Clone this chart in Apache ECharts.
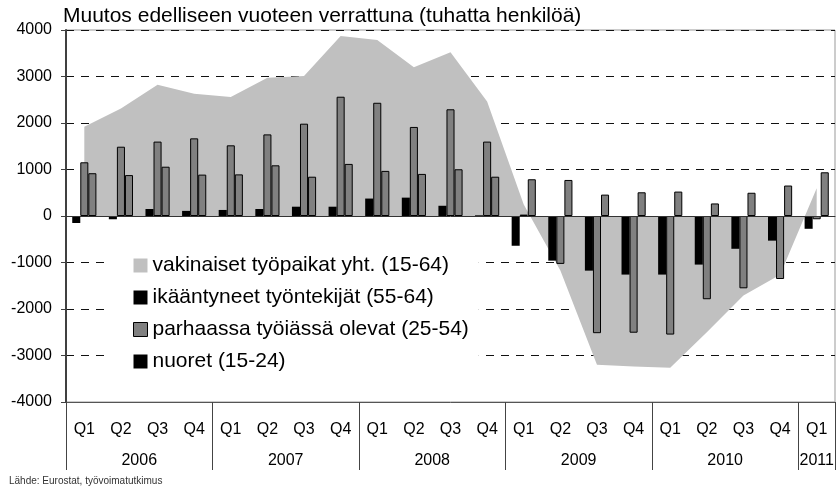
<!DOCTYPE html>
<html>
<head>
<meta charset="utf-8">
<script src="https://cdn.jsdelivr.net/npm/echarts@6/dist/echarts.min.js"></script>
<style>
  html, body { margin: 0; padding: 0; background: #fff; }
  #chart { width: 837px; height: 490px; }
</style>
</head>
<body>
<div id="chart"></div>
<script>
// quarters and year rows
const quarters = ['Q1', 'Q2', 'Q3', 'Q4', 'Q1', 'Q2', 'Q3', 'Q4', 'Q1', 'Q2', 'Q3', 'Q4',
  'Q1', 'Q2', 'Q3', 'Q4', 'Q1', 'Q2', 'Q3', 'Q4', 'Q1'];
const years = ['2006', '2007', '2008', '2009', '2010', '2011'];
const yearQuarters = [4, 4, 4, 4, 4, 1];
const yTicks = [-4000, -3000, -2000, -1000, 0, 1000, 2000, 3000, 4000];

// series values (thousand persons)
const vakinaiset = [1920, 2310, 2820, 2630, 2560, 2975, 3010, 3870, 3785, 3200, 3520, 2460,
  250, -1170, -3200, -3235, -3265, -2500, -1710, -1265, 595];
const ikaantyneet = [-150, -70, 150, 110, 130, 150, 200, 200, 375, 395, 220, 15,
  -640, -960, -1175, -1260, -1260, -1045, -705, -530, -275];
const parhaassa = [1155, 1490, 1600, 1670, 1520, 1755, 1985, 2565, 2435, 1915, 2295, 1600,
  30, -1030, -2520, -2510, -2550, -1790, -1555, -1355, -70];
const nuoret = [920, 880, 1060, 890, 895, 1090, 845, 1120, 970, 905, 1005, 845,
  790, 775, 460, 510, 525, 270, 500, 655, 940];

const names = [
  'vakinaiset työpaikat yht. (15-64)',
  'ikääntyneet työntekijät (55-64)',
  'parhaassa työiässä olevat (25-54)',
  'nuoret (15-24)',
];

const font = 'Liberation Sans, Arial, sans-serif';

// year row: half-quarter points, labels at year centers, ticks at year borders
const yearLabelAt = {};
const yearTickAt = {};
let start = 0;
years.forEach((y, i) => {
  yearLabelAt[2 * start + yearQuarters[i]] = y;
  yearTickAt[2 * start] = true;
  start += yearQuarters[i];
});
yearTickAt[2 * start] = true;
const halfPoints = [];
for (let i = 0; i <= 2 * start; i++) halfPoints.push('h' + i);
// zero line: ticks at each half-quarter
const zeroCells = [];
for (let i = 0; i < 2 * quarters.length; i++) zeroCells.push('z' + i);

const quarterCats = quarters.map((q, i) => 'c' + i);

const myChart = echarts.init(document.getElementById('chart'));

const barBase = {
  type: 'bar',
  xAxisIndex: 0,
  barGap: '0%',
  barCategoryGap: '34%',
  z: 2,
};

myChart.setOption({
  animation: false,
  title: [
    {
      text: 'Muutos edelliseen vuoteen verrattuna (tuhatta henkilöä)',
      left: 63,
      top: 6,
      padding: 0,
      textStyle: { fontFamily: font, fontSize: 21, fontWeight: 'normal', color: '#000' },
    },
    {
      text: 'Lähde: Eurostat, työvoimatutkimus',
      left: 9,
      top: 476,
      padding: 0,
      textStyle: { fontFamily: font, fontSize: 10, fontWeight: 'normal', color: '#333' },
    },
  ],
  legend: {
    orient: 'vertical',
    left: 107,
    top: 232,
    padding: [23, 10, 18, 26],
    backgroundColor: '#fff',
    icon: 'rect',
    itemWidth: 14,
    itemHeight: 14,
    itemGap: 11,
    textStyle: { fontFamily: font, fontSize: 21, color: '#000', lineHeight: 21 },
    data: [
      { name: names[0], itemStyle: { color: '#c0c0c0', borderWidth: 0 } },
      { name: names[1], itemStyle: { color: '#000', borderWidth: 0 } },
      { name: names[2], itemStyle: { color: '#808080', borderColor: '#000', borderWidth: 1 } },
      { name: names[3], itemStyle: { color: '#000', borderWidth: 0 } },
    ],
  },
  grid: {
    left: 66,
    right: 2,
    top: 30,
    bottom: 88,
    containLabel: false,
    outerBoundsMode: 'none',
    show: true,
    borderColor: '#999',
    borderWidth: 1,
  },
  xAxis: [
    {
      // quarter row at the bottom
      type: 'category',
      position: 'bottom',
      data: quarterCats,
      axisLine: { onZero: false, lineStyle: { color: '#555', width: 1 } },
      axisTick: { interval: 0, length: 35, lineStyle: { color: '#444' } },
      axisLabel: {
        interval: 0,
        margin: 20,
        fontFamily: font,
        fontSize: 16,
        color: '#000',
        formatter: (v) => quarters[+v.slice(1)],
      },
      splitLine: { show: false },
    },
    {
      // zero line with small ticks
      type: 'category',
      position: 'bottom',
      data: zeroCells,
      z: 5,
      axisLine: { onZero: true, lineStyle: { color: '#333', width: 1 } },
      axisTick: { interval: 0, length: 4, lineStyle: { color: '#333' } },
      axisLabel: { show: false },
      splitLine: { show: false },
    },
    {
      // year row
      type: 'category',
      position: 'bottom',
      boundaryGap: false,
      data: halfPoints,
      axisLine: { onZero: false, show: false },
      axisTick: {
        interval: (idx) => !!yearTickAt[idx],
        length: 68,
        lineStyle: { color: '#444' },
      },
      axisLabel: {
        interval: 0,
        margin: 51,
        fontFamily: font,
        fontSize: 16,
        color: '#000',
        formatter: (v) => yearLabelAt[+v.slice(1)] || '',
      },
      splitLine: { show: false },
    },
  ],
  yAxis: {
    type: 'value',
    min: yTicks[0],
    max: yTicks[yTicks.length - 1],
    interval: 1000,
    axisLine: { show: true, lineStyle: { color: '#404040', width: 2 } },
    axisTick: { show: true, length: 5, lineStyle: { color: '#404040' } },
    axisLabel: {
      margin: 14,
      fontFamily: font,
      fontSize: 16,
      color: '#000',
      formatter: (v) => String(v),
    },
    splitLine: { lineStyle: { type: [8, 7], color: '#111', width: 1 } },
  },
  series: [
    {
      name: names[0],
      type: 'line',
      xAxisIndex: 0,
      data: vakinaiset,
      symbol: 'none',
      lineStyle: { width: 0 },
      itemStyle: { color: '#c0c0c0' },
      areaStyle: { color: '#c0c0c0', opacity: 1 },
      z: 1,
    },
    Object.assign({}, barBase, {
      name: names[1],
      data: ikaantyneet,
      itemStyle: { color: '#000' },
    }),
    Object.assign({}, barBase, {
      name: names[2],
      data: parhaassa,
      itemStyle: { color: '#808080', borderColor: '#000', borderWidth: 1 },
    }),
    Object.assign({}, barBase, {
      name: names[3],
      data: nuoret,
      itemStyle: { color: '#808080', borderColor: '#000', borderWidth: 1 },
    }),
  ],
});
</script>
</body>
</html>
